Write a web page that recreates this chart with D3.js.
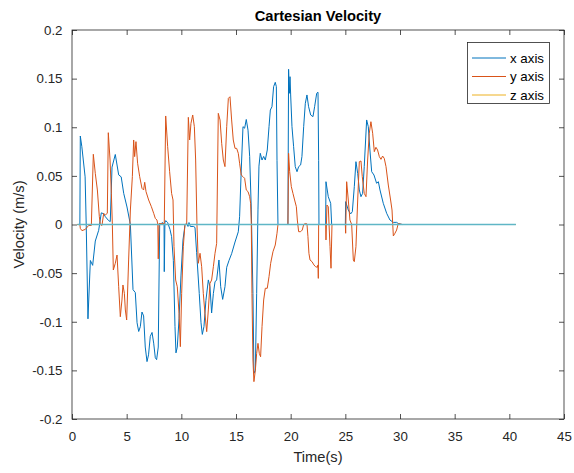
<!DOCTYPE html>
<html>
<head>
<meta charset="utf-8">
<script src="https://cdn.jsdelivr.net/npm/d3@7"></script>
<style>
html,body{margin:0;padding:0;background:#fff;}
svg{display:block;font-family:"Liberation Sans",Arial,Helvetica,sans-serif;}
</style>
</head>
<body>
<svg id="chart" width="574" height="473"></svg>
<script>
// ---- data ----
const titleText = "Cartesian Velocity";
const xLabelText = "Time(s)";
const yLabelText = "Velocity (m/s)";
const seriesNames = ["x axis", "y axis", "z axis"];
const seriesColors = ["#0072BD", "#D95319", "#EDB120"];
const overlayColor = "#5fb6c6";
const xTicks = [0, 5, 10, 15, 20, 25, 30, 35, 40, 45];
const xTickLabels = ["0", "5", "10", "15", "20", "25", "30", "35", "40", "45"];
const yTicks = [-0.2, -0.15, -0.1, -0.05, 0, 0.05, 0.1, 0.15, 0.2];
const yTickLabels = ["-0.2", "-0.15", "-0.1", "-0.05", "0", "0.05", "0.1", "0.15", "0.2"];

// x axis velocity: [time, value]
const xAxisVel = [
[0.5,0],[0.72,0],[0.76,0.091],[0.9,0.08],[1.2,0.049],[1.3,0],[1.46,-0.097],[1.68,-0.037],[1.89,-0.042],
[2.13,-0.017],[2.44,-0.006],[2.68,0.012],[2.9,0.011],[3.05,0.008],[3.35,0.004],[3.5,0.003],[3.66,0.059],
[3.96,0.072],[4.27,0.051],[4.5,0.049],[4.73,0.032],[5.03,0.018],[5.34,0.0],[5.58,-0.067],[5.79,-0.070],
[5.95,-0.101],[6.1,-0.110],[6.25,-0.105],[6.4,-0.09],[6.55,-0.094],[6.7,-0.126],[6.86,-0.141],[7.0,-0.134],
[7.16,-0.115],[7.32,-0.111],[7.47,-0.122],[7.62,-0.137],[7.74,-0.139],[7.89,-0.126],[8.02,0],[8.3,0.002],
[8.42,0],[8.44,-0.0485],[8.5,0.002],[8.57,0.004],[8.75,0.002],[8.96,-0.005],[9.11,-0.0125],[9.27,-0.037],
[9.42,-0.105],[9.51,-0.132],[9.63,-0.126],[9.79,-0.097],[9.97,-0.052],[10.15,-0.016],[10.33,-0.001],
[10.49,0.001],[10.61,-0.002],[10.7,0.002],[10.82,-0.002],[11.1,-0.002],[11.25,-0.003],[11.4,-0.029],
[11.64,-0.071],[11.8,-0.101],[11.92,-0.113],[12.07,-0.105],[12.25,-0.078],[12.47,-0.057],[12.62,-0.064],
[12.77,-0.091],[12.93,-0.071],[13.08,-0.059],[13.23,-0.057],[13.44,-0.0365],[13.6,-0.064],[13.78,-0.077],
[13.99,-0.064],[14.15,-0.044],[14.36,-0.037],[14.6,-0.030],[14.91,-0.018],[15.21,-0.0075],[15.33,0.008],
[15.48,0.056],[15.64,0.1006],[15.79,0.099],[15.94,0.108],[16.1,0.097],[16.25,0.07],[16.4,0.015],
[16.55,-0.071],[16.64,-0.153],[16.77,-0.150],[16.89,-0.071],[17.01,0.015],[17.1,0.06],[17.22,0.0732],
[17.38,0.0663],[17.53,0.070],[17.68,0.0663],[17.86,0.0766],[18.02,0.1006],[18.14,0.1177],[18.29,0.1211],
[18.44,0.1417],[18.59,0.1462],[18.69,0.1417],[18.75,0.066],[18.84,0],[19.75,0],[19.81,0.1596],
[19.88,0.1349],[19.94,0.152],[20.0,0.1332],[20.12,0.1006],[20.27,0.080],[20.42,0.0595],[20.58,0.0543],
[20.73,0.0595],[20.91,0.0612],[21.03,0.0698],[21.19,0.1006],[21.34,0.1246],[21.49,0.1332],[21.64,0.1211],
[21.83,0.1126],[22.04,0.1109],[22.19,0.1211],[22.38,0.1349],[22.5,0.136],[22.56,0.066],[22.59,0],
[23.2,0],[23.23,0.044],[23.44,0.0286],[23.66,0.0218],[23.75,0],[25.0,0],[25.03,0.0235],[25.27,0.0149],
[25.48,0.0108],[25.64,0.0132],[25.82,0.0389],[25.97,0.0646],[26.13,0.0526],[26.28,0.0355],[26.43,0.0286],
[26.58,0.032],[26.73,0.0595],[26.95,0.1075],[27.1,0.1006],[27.25,0.0766],[27.41,0.0543],[27.62,0.0509],
[27.86,0.0424],[28.02,0.044],[28.17,0.0355],[28.47,0.0218],[28.78,0.0115],[29.08,0.0046],[29.39,0.0022],
[29.69,0.0022],[29.84,0.001],[30.2,0],[40.6,0]
];

// y axis velocity: [time, value]
const yAxisVel = [
[0.5,0],[0.72,0],[0.76,-0.004],[0.91,-0.0063],[1.22,-0.005],[1.52,-0.001],[1.77,-0.001],[1.95,0.0722],
[2.13,0.0526],[2.32,0.0355],[2.5,0.008],[2.59,0],[2.74,-0.001],[2.9,0.0115],[3.05,0.0098],[3.23,0.0115],
[3.32,0.0944],[3.48,0.0663],[3.6,0.032],[3.69,0],[3.78,-0.0468],[3.96,-0.0399],[4.12,-0.0314],[4.27,-0.064],
[4.42,-0.0948],[4.57,-0.0776],[4.66,-0.0622],[4.79,-0.0708],[4.88,-0.0879],[5.0,-0.0982],[5.18,-0.0365],
[5.34,0.0149],[5.52,0.0492],[5.64,0.0869],[5.73,0.0698],[5.85,0.0852],[6.0,0.063],[6.19,0.0492],
[6.4,0.0372],[6.55,0.0355],[6.65,0.0434],[6.77,0.0338],[7.01,0.0252],[7.26,0.0183],[7.47,0.0115],
[7.62,0.0063],[7.77,0.0046],[7.85,0.0],[7.89,-0.0353],[7.96,0.001],[8.44,0.001],[8.57,0.1116],[8.75,0.080],
[8.93,0.0543],[9.11,0.032],[9.24,0.0252],[9.33,-0.0228],[9.48,-0.0571],[9.63,-0.064],[9.79,-0.0913],
[9.91,-0.1256],[10.03,-0.0708],[10.18,-0.0228],[10.33,0],[10.49,0.001],[10.64,0.1102],[10.76,0.0869],
[10.88,0.104],[11.04,0.1126],[11.19,0.1006],[11.31,0.0663],[11.43,0],[11.55,-0.0399],[11.71,-0.0296],
[11.86,-0.0434],[12.01,-0.0708],[12.16,-0.0913],[12.32,-0.1102],[12.47,-0.0879],[12.62,-0.0605],
[12.77,-0.0571],[12.93,-0.0434],[13.08,-0.0296],[13.23,-0.0194],[13.38,0.1143],[13.54,0.1075],
[13.69,0.0835],[13.84,0.0663],[13.99,0.0595],[14.15,0.1006],[14.3,0.1297],[14.45,0.1314],[14.6,0.1075],
[14.75,0.0869],[14.91,0.0783],[15.06,0.0783],[15.21,0.0732],[15.33,0.063],[15.48,0.0509],[15.64,0.0492],
[15.79,0.0475],[15.94,0.0355],[16.1,0.0338],[16.25,0.0286],[16.34,0.0218],[16.4,0],[16.46,-0.0708],
[16.55,-0.1393],[16.64,-0.1616],[16.77,-0.1498],[16.89,-0.1325],[17.01,-0.1222],[17.13,-0.1325],
[17.25,-0.136],[17.38,-0.105],[17.53,-0.0776],[17.68,-0.0656],[17.86,-0.0656],[18.02,-0.0536],
[18.17,-0.0399],[18.38,-0.028],[18.59,-0.0211],[18.75,-0.009],[18.84,0],[19.75,0],[19.81,0.0732],
[19.91,0.0543],[20.06,0.0389],[20.21,0.032],[20.36,0.0252],[20.52,0.0183],[20.61,0.0046],[20.73,-0.0074],
[20.91,-0.0074],[21.06,-0.0057],[21.19,0],[21.34,0.001],[21.49,0.0006],[21.58,-0.0125],[21.67,-0.0296],
[21.77,-0.0365],[21.95,-0.0382],[22.13,-0.0416],[22.28,-0.0434],[22.44,-0.044],[22.5,-0.0416],
[22.53,-0.0554],[22.56,0],[23.2,0],[23.23,-0.0159],[23.32,0.02],[23.44,0.0183],[23.6,-0.0228],
[23.69,-0.045],[23.78,0],[25.0,0],[25.03,-0.009],[25.12,0.044],[25.27,0.0252],[25.42,0.0046],[25.58,0],
[25.73,-0.0365],[25.82,-0.0382],[25.97,-0.0228],[26.13,0.0252],[26.28,0.0646],[26.43,0.0653],
[26.55,0.0492],[26.73,0.032],[26.89,0.0286],[27.04,0.0663],[27.19,0.0938],[27.34,0.1057],[27.5,0.0938],
[27.65,0.0749],[27.8,0.0794],[27.95,0.0766],[28.11,0.0698],[28.26,0.067],[28.41,0.0704],[28.56,0.068],
[28.72,0.0595],[28.93,0.0406],[29.14,0.0252],[29.27,0.0149],[29.39,-0.0118],[29.54,-0.009],
[29.69,-0.0057],[29.84,0.001],[30.2,0],[40.6,0]
];

// z axis velocity: flat zero
const zAxisVel = [[0.5,0],[40.6,0]];
// unlabelled overlay trace (flat zero, drawn on top)
const overlayVel = [[0.5,0],[40.6,0]];

// ---- layout ----
const svg = d3.select("#chart");
const L = 72, R = 564, T = 30, B = 419;
const x = d3.scaleLinear().domain([0, 45]).range([L, R]);
const y = d3.scaleLinear().domain([-0.2, 0.2]).range([B, T]);
const axisColor = "#262626";
const tickFont = "13.3px";

svg.append("defs").append("clipPath").attr("id", "clip")
  .append("rect").attr("x", L).attr("y", T).attr("width", R - L).attr("height", B - T);

svg.append("rect").attr("x", L).attr("y", T).attr("width", R - L).attr("height", B - T)
  .attr("fill", "#fff");

// axes
function styleAxis(g) {
  g.select(".domain").remove();
  g.selectAll(".tick line").attr("stroke", axisColor).attr("stroke-width", 0.8);
  g.selectAll(".tick text").attr("fill", axisColor).style("font-size", tickFont)
    .style("font-family", '"Liberation Sans",Arial,sans-serif');
}
svg.append("g").attr("transform", `translate(0,${B})`)
  .call(d3.axisBottom(x).tickValues(xTicks).tickFormat((d, i) => xTickLabels[i]).tickSizeInner(-5).tickSizeOuter(0).tickPadding(12.5))
  .call(styleAxis);
svg.append("g").attr("transform", `translate(0,${T})`)
  .call(d3.axisTop(x).tickValues(xTicks).tickFormat("").tickSizeInner(-5).tickSizeOuter(0))
  .call(styleAxis);
svg.append("g").attr("transform", `translate(${L},0)`)
  .call(d3.axisLeft(y).tickValues(yTicks).tickFormat((d, i) => yTickLabels[i]).tickSizeInner(-5).tickSizeOuter(0).tickPadding(9.5))
  .call(styleAxis);
svg.append("g").attr("transform", `translate(${R},0)`)
  .call(d3.axisRight(y).tickValues(yTicks).tickFormat("").tickSizeInner(-5).tickSizeOuter(0))
  .call(styleAxis);

// lines
const line = d3.line().x(d => x(d[0])).y(d => y(d[1]));
const plot = svg.append("g").attr("clip-path", "url(#clip)");
const allSeries = [xAxisVel, yAxisVel, zAxisVel];
allSeries.forEach((s, i) => {
  plot.append("path").datum(s).attr("d", line).attr("fill", "none")
    .attr("stroke", seriesColors[i]).attr("stroke-width", 1).attr("stroke-linejoin", "round");
});
plot.append("path").datum(overlayVel).attr("d", line).attr("fill", "none")
  .attr("stroke", overlayColor).attr("stroke-width", 1.5);

// box
svg.append("rect").attr("x", L).attr("y", T).attr("width", R - L).attr("height", B - T)
  .attr("fill", "none").attr("stroke", axisColor).attr("stroke-width", 0.8);

// title & labels
svg.append("text").attr("x", (L + R) / 2).attr("y", 21).attr("text-anchor", "middle")
  .style("font-size", "14.7px").style("font-weight", "bold").attr("fill", "#000").text(titleText);
svg.append("text").attr("x", (L + R) / 2).attr("y", 462).attr("text-anchor", "middle")
  .style("font-size", "14.7px").attr("fill", axisColor).text(xLabelText);
svg.append("text").attr("transform", `translate(24,${(T + B) / 2}) rotate(-90)`).attr("text-anchor", "middle")
  .style("font-size", "14.7px").attr("fill", axisColor).text(yLabelText);

// legend
const lg = svg.append("g");
lg.append("rect").attr("x", 467.5).attr("y", 42.5).attr("width", 82).attr("height", 61)
  .attr("fill", "#fff").attr("stroke", axisColor).attr("stroke-width", 0.8);
seriesNames.forEach((n, i) => {
  const cy = 58 + i * 18.5;
  lg.append("line").attr("x1", 472).attr("x2", 506).attr("y1", cy).attr("y2", cy)
    .attr("stroke", seriesColors[i]).attr("stroke-width", 1);
  lg.append("text").attr("x", 510).attr("y", cy + 4.6).style("font-size", "13.3px")
    .attr("fill", "#000").text(n);
});
</script>
</body>
</html>
